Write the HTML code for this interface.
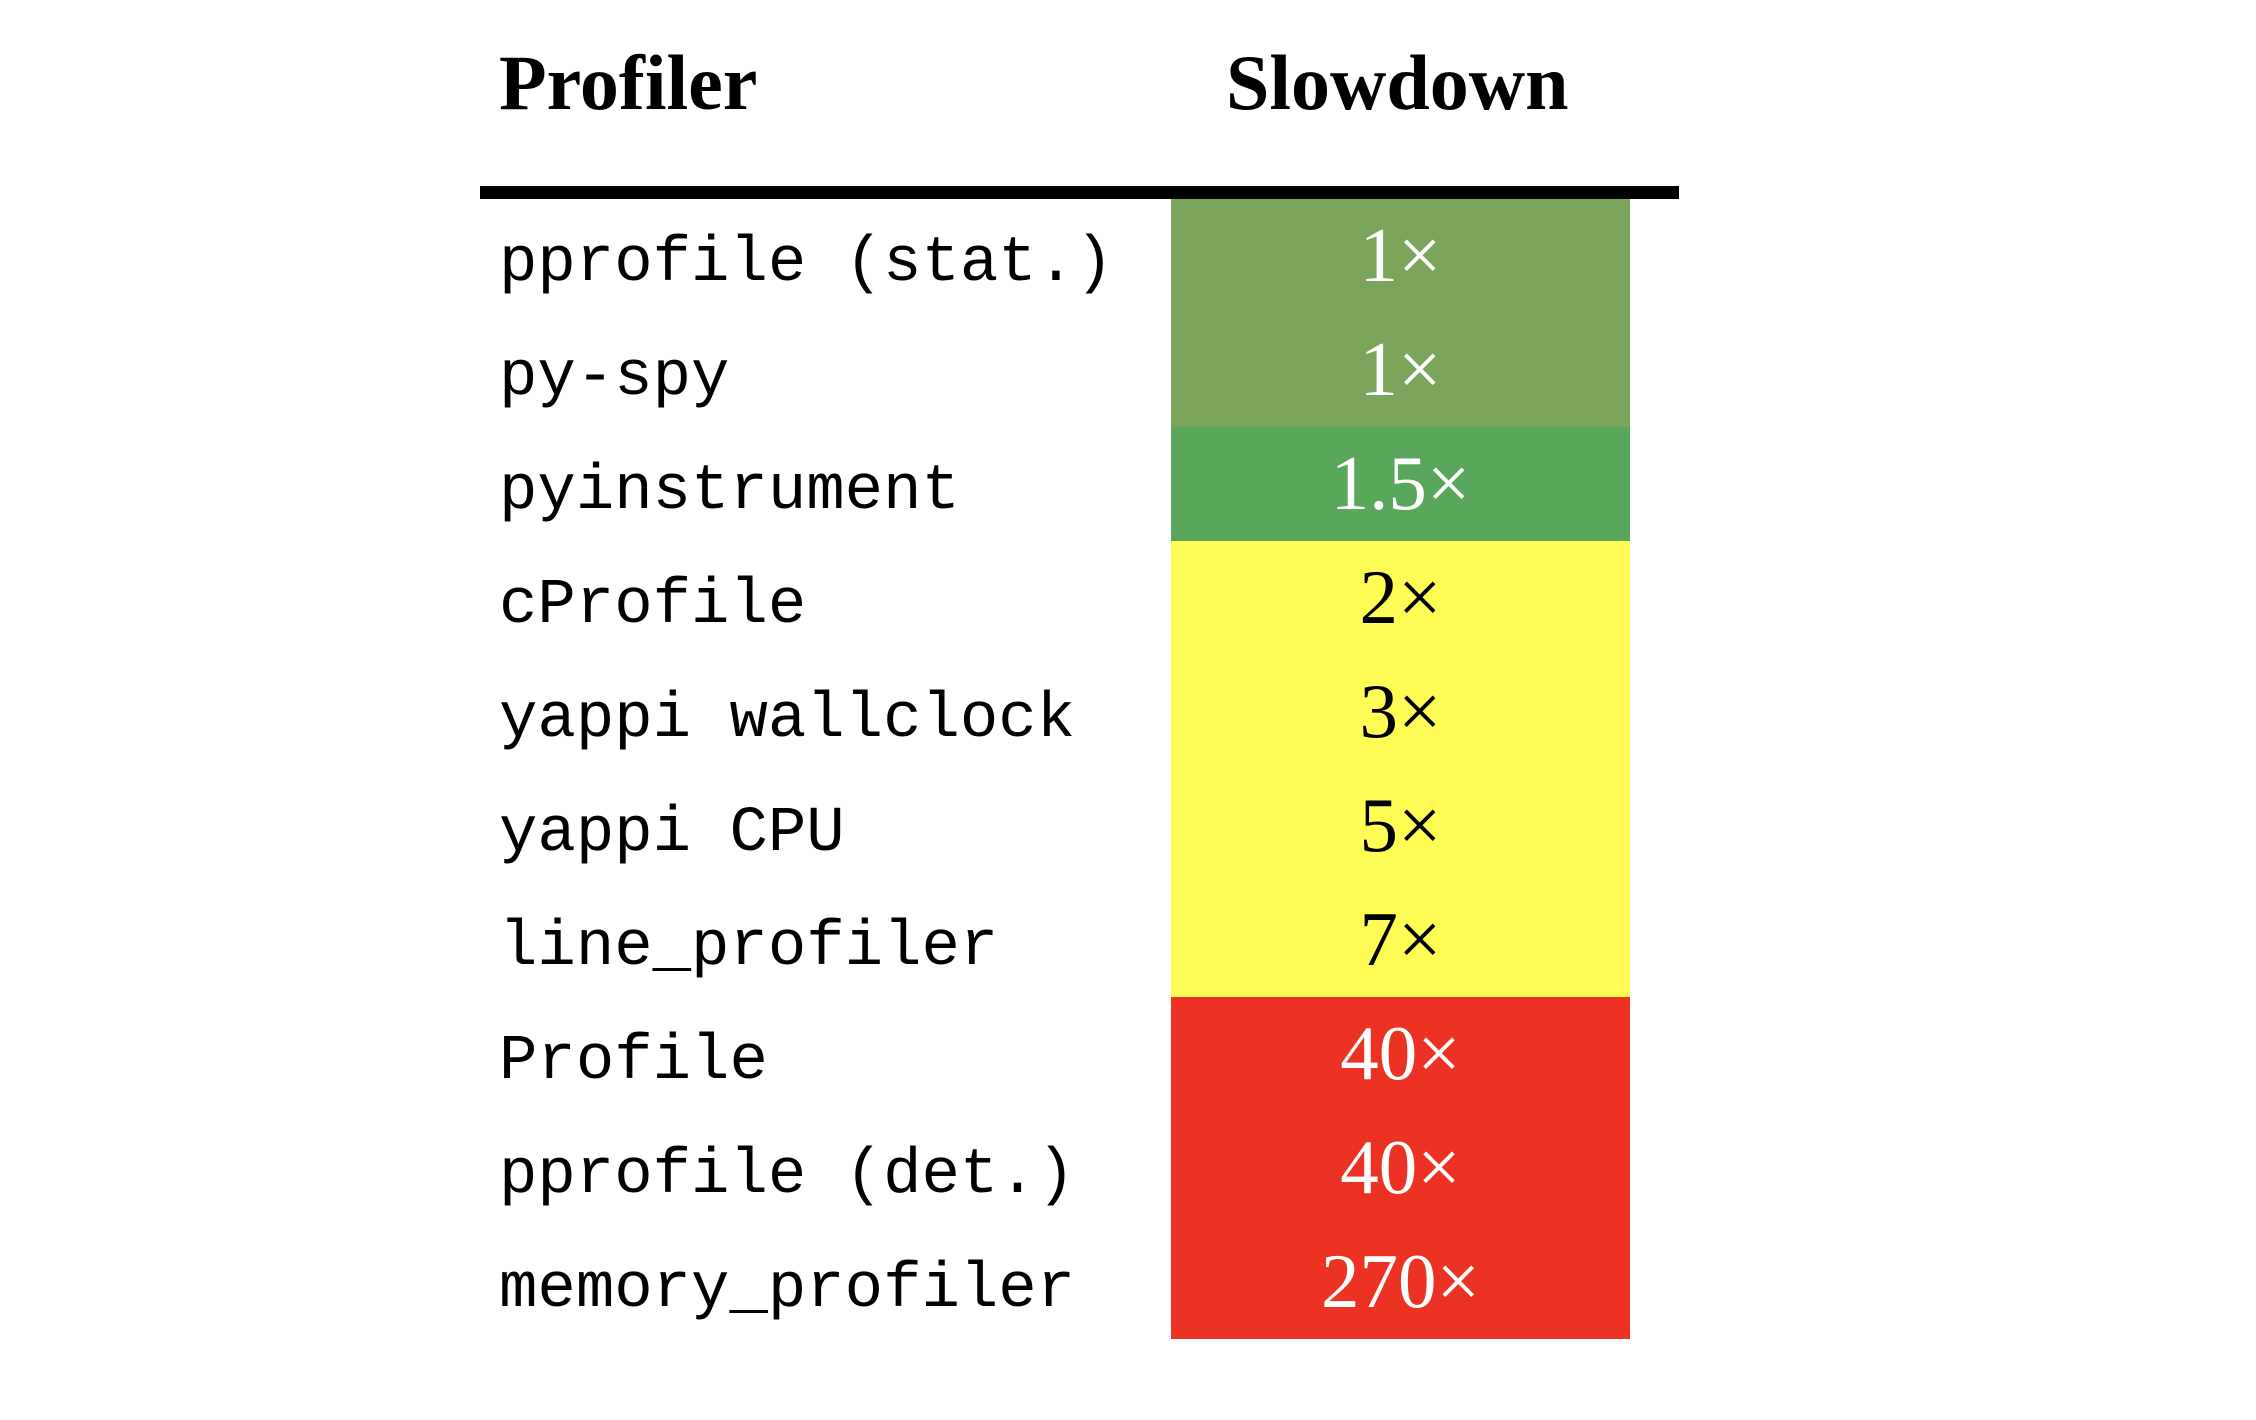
<!DOCTYPE html>
<html><head><meta charset="utf-8"><style>
body{margin:0;width:2256px;height:1420px;background:#fff;position:relative;overflow:hidden}
.h{position:absolute;top:38px;font:bold 78px "Liberation Serif",serif;color:#000}
.rule{position:absolute;left:480px;top:186px;width:1199px;height:13px;background:#000}
.row{position:absolute;left:0;height:114px;width:2256px}
.n{position:absolute;left:499px;top:29px;height:114px;line-height:114px;font:64px "Liberation Mono",monospace;color:#000}
.v{position:absolute;left:1171px;width:459px;top:0;height:114px;text-align:center;overflow:hidden}
.v span{position:relative;top:12px;display:block;line-height:114px;font:77px "Liberation Serif",serif}
</style></head><body>
<div class="h" style="left:499px">Profiler</div>
<div class="h" style="left:1226px">Slowdown</div>
<div class="rule"></div>
<div class="row" style="top:199px"><div class="n">pprofile (stat.)</div><div class="v" style="background:#7BA55A;color:#fff"><span>1×</span></div></div>
<div class="row" style="top:313px"><div class="n">py-spy</div><div class="v" style="background:#7BA55A;color:#fff"><span>1×</span></div></div>
<div class="row" style="top:427px"><div class="n">pyinstrument</div><div class="v" style="background:#59A75B;color:#fff"><span>1.5×</span></div></div>
<div class="row" style="top:541px"><div class="n">cProfile</div><div class="v" style="background:#FFFD55;color:#000"><span>2×</span></div></div>
<div class="row" style="top:655px"><div class="n">yappi wallclock</div><div class="v" style="background:#FFFD55;color:#000"><span>3×</span></div></div>
<div class="row" style="top:769px"><div class="n">yappi CPU</div><div class="v" style="background:#FFFD55;color:#000"><span>5×</span></div></div>
<div class="row" style="top:883px"><div class="n">line_profiler</div><div class="v" style="background:#FFFD55;color:#000"><span>7×</span></div></div>
<div class="row" style="top:997px"><div class="n">Profile</div><div class="v" style="background:#EC3323;color:#fff"><span>40×</span></div></div>
<div class="row" style="top:1111px"><div class="n">pprofile (det.)</div><div class="v" style="background:#EC3323;color:#fff"><span>40×</span></div></div>
<div class="row" style="top:1225px"><div class="n">memory_profiler</div><div class="v" style="background:#EC3323;color:#fff"><span>270×</span></div></div>
</body></html>
